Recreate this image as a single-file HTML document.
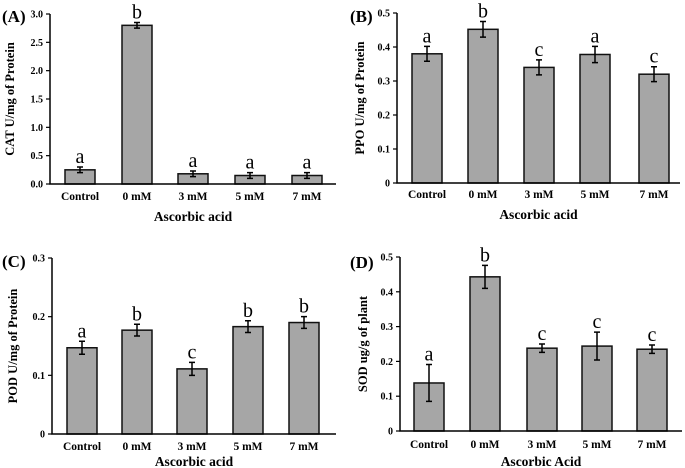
<!DOCTYPE html>
<html><head><meta charset="utf-8"><style>
body{margin:0;background:#fff}
svg{display:block;font-family:"Liberation Serif",serif}
</style></head><body>
<svg id="fig" width="685" height="468" viewBox="0 0 685 468" xmlns="http://www.w3.org/2000/svg"></svg>
<script>
const categories=["Control","0 mM","3 mM","5 mM","7 mM"];
const catValues=[0.25,2.8,0.18,0.15,0.15];
const catErrors=[0.05,0.05,0.05,0.05,0.05];
const catLetters=["a","b","a","a","a"];
const ppoValues=[0.38,0.452,0.34,0.378,0.32];
const ppoErrors=[0.022,0.023,0.022,0.024,0.022];
const ppoLetters=["a","b","c","a","c"];
const podValues=[0.147,0.177,0.111,0.183,0.19];
const podErrors=[0.011,0.01,0.011,0.01,0.01];
const podLetters=["a","b","c","b","b"];
const sodValues=[0.138,0.443,0.238,0.244,0.235];
const sodErrors=[0.053,0.033,0.012,0.04,0.012];
const sodLetters=["a","b","c","c","c"];
const catTicks=["0.0","0.5","1.0","1.5","2.0","2.5","3.0"];
const ppoTicks=["0","0.1","0.2","0.3","0.4","0.5"];
const podTicks=["0","0.1","0.2","0.3"];
const sodTicks=["0","0.1","0.2","0.3","0.4","0.5"];

const NS="http://www.w3.org/2000/svg";
const svg=document.getElementById('fig');
function mk(tag,attrs,parent,text){const e=document.createElementNS(NS,tag);for(const k in attrs)e.setAttribute(k,attrs[k]);if(text!==undefined)e.textContent=text;(parent||svg).appendChild(e);return e;}

const panels=[
 {id:"a",label:"(A)",lx:2,ly:22,x0:50,x1:336,yTop:14,yBot:184,max:3,ticks:catTicks,vals:catValues,errs:catErrors,lets:catLetters,centers:[80,137,193,250,307],xlY:200,title:"Ascorbic acid",titleY:221,ylab:"CAT U/mg of Protein",ylabX:14},
 {id:"b",label:"(B)",lx:350,ly:22,x0:397,x1:680,yTop:13,yBot:183,max:0.5,ticks:ppoTicks,vals:ppoValues,errs:ppoErrors,lets:ppoLetters,centers:[427,483,539,595,654],xlY:198,title:"Ascorbic acid",titleY:219,ylab:"PPO U/mg of Protein",ylabX:364},
 {id:"c",label:"(C)",lx:2,ly:267,x0:52,x1:336,yTop:258,yBot:434,max:0.3,ticks:podTicks,vals:podValues,errs:podErrors,lets:podLetters,centers:[82,137,192,248,304],xlY:450,title:"Ascorbic acid",titleY:466,ylab:"POD U/mg of Protein",ylabX:17},
 {id:"d",label:"(D)",lx:350,ly:268,x0:400,x1:682,yTop:257,yBot:431,max:0.5,ticks:sodTicks,vals:sodValues,errs:sodErrors,lets:sodLetters,centers:[429,485,542,597,652],xlY:448,title:"Ascorbic Acid",titleY:466,ylab:"SOD ug/g of plant",ylabX:367}
];
const BW=30;
panels.forEach(p=>{
 const g=mk('g',{});
 
 
 const y=v=>p.yBot-(v/p.max)*(p.yBot-p.yTop);
 const pl=mk('text',{x:p.lx,y:p.ly,'font-size':17,'font-weight':'bold'},g,p.label);
 
 
 p.vals.forEach((v,i)=>{
  const cx=p.centers[i];
  const b=mk('rect',{x:cx-BW/2,y:y(v),width:BW,height:p.yBot-y(v),fill:'#a6a6a6',stroke:'#111','stroke-width':1.5},g);
  
  
  const e=p.errs[i],yt=y(v+e),yb=y(v-e);
  const eb=mk('path',{d:`M${cx},${yt}V${yb}M${cx-3},${yt}H${cx+3}M${cx-3},${yb}H${cx+3}`,stroke:'#000','stroke-width':1.5,fill:'none'},g);
  
  
  const lt=mk('text',{x:cx,y:yt-4,'text-anchor':'middle','font-size':20},g,p.lets[i]);
  
  
  const xl=mk('text',{x:cx,y:p.xlY,'text-anchor':'middle','font-size':11.5,'font-weight':'bold'},g,categories[i]);
  
  
 });
 const ax=mk('path',{d:`M${p.x0},${p.yTop}V${p.yBot}H${p.x1}`,stroke:'#000','stroke-width':1.5,fill:'none'},g);
 
 
 p.ticks.forEach((t,i)=>{
  const ty=y(p.max*i/(p.ticks.length-1));
  mk('line',{x1:p.x0-4,x2:p.x0,y1:ty,y2:ty,stroke:'#000','stroke-width':1.2},g);
  const tl=mk('text',{x:p.x0-7,y:ty+3.5,'text-anchor':'end','font-size':10,'font-weight':'bold'},g,t);
  
  
 });
 const xt=mk('text',{x:(p.x0+p.x1)/2,y:p.titleY,'text-anchor':'middle','font-size':13.5,'font-weight':'bold'},g,p.title);
 
 
 const cy=(p.yTop+p.yBot)/2;
 const yt=mk('text',{x:p.ylabX,y:cy,'text-anchor':'middle','font-size':12.5,'font-weight':'bold',transform:`rotate(-90 ${p.ylabX} ${cy})`},g,p.ylab);
 
 
});
</script>
</body></html>
